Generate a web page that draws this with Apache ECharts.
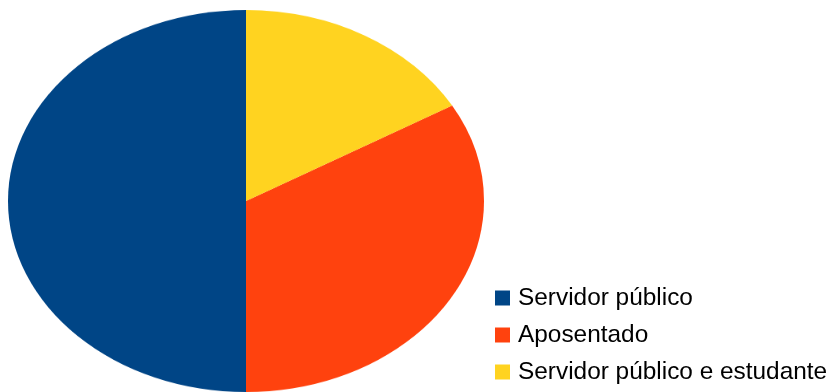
<!DOCTYPE html>
<html>
<head>
<meta charset="utf-8">
<script src="https://cdn.jsdelivr.net/npm/echarts@6/dist/echarts.min.js"></script>
<style>
  body { margin: 0; background: #fff; }
  #wrap { position: relative; width: 831px; height: 392px; overflow: hidden; }
  /* pie drawn round, then squashed vertically into an ellipse */
  #pie { position: absolute; left: 8px; top: 10px; width: 476px; height: 476px;
         transform-origin: 0 0; transform: scaleY(0.8025); }
  #legend { position: absolute; left: 0; top: 0; width: 831px; height: 392px; }
</style>
</head>
<body>
<div id="wrap">
  <div id="pie"></div>
  <div id="legend"></div>
</div>
<script>
var categories = ['Servidor público', 'Aposentado', 'Servidor público e estudante'];
var values = [3, 2, 1];
var colors = ['#004586', '#ff420e', '#ffd320'];

var pieData = categories.map(function (c, i) {
    return { name: c, value: values[i], itemStyle: { color: colors[i] } };
});

var pieChart = echarts.init(document.getElementById('pie'));
pieChart.setOption({
    animation: false,
    series: [
        {
            type: 'pie',
            center: ['50%', '50%'],
            radius: ['0%', '100%'],
            startAngle: 90,
            clockwise: false,
            label: { show: false },
            labelLine: { show: false },
            itemStyle: { borderWidth: 0 },
            data: pieData
        }
    ]
});

var legendChart = echarts.init(document.getElementById('legend'));
legendChart.setOption({
    animation: false,
    legend: {
        orient: 'vertical',
        left: 495,
        top: 286,
        padding: 0,
        icon: 'rect',
        itemWidth: 15,
        itemHeight: 15,
        itemGap: 13,
        textStyle: {
            fontFamily: 'Liberation Sans',
            fontSize: 24.4,
            color: '#000',
            lineHeight: 24,
            padding: [0, 0, 0, 3]
        },
        data: categories
    },
    series: [
        {
            type: 'pie',
            center: [-500, -500],
            radius: 1,
            label: { show: false },
            data: pieData
        }
    ]
});
</script>
</body>
</html>
